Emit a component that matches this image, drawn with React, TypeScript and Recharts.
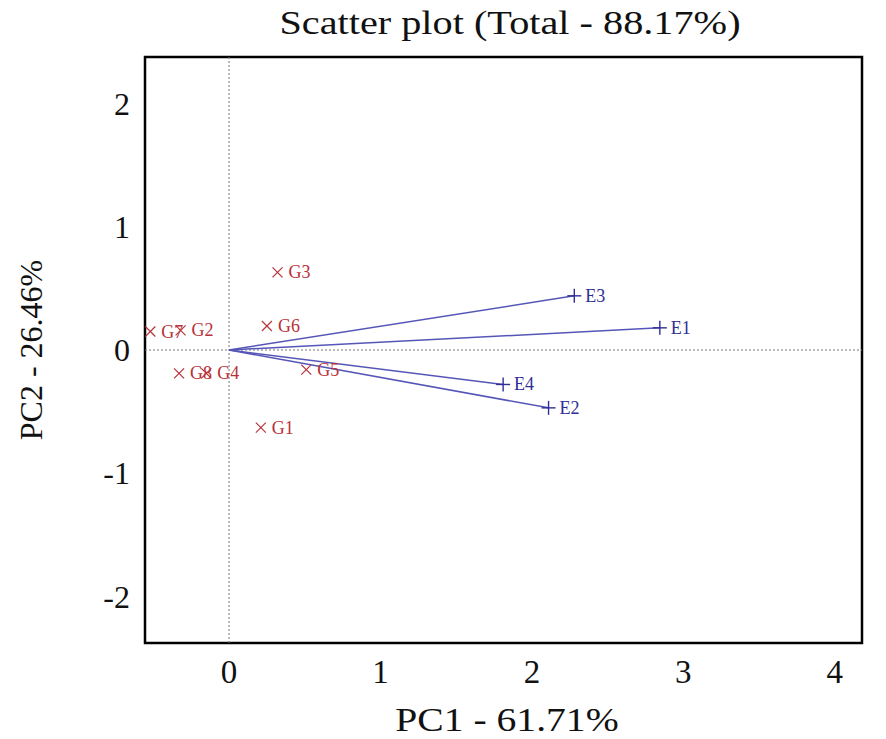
import React from 'react';
import {
  ScatterChart,
  Scatter,
  XAxis,
  YAxis,
  ReferenceLine,
  ReferenceArea,
} from 'recharts';

// Genotype scores (red crosses)
const genotypeNames = ['G1', 'G2', 'G3', 'G4', 'G5', 'G6', 'G7', 'G8'];
const genotypePC1 = [0.21, -0.32, 0.32, -0.15, 0.51, 0.25, -0.52, -0.33];
const genotypePC2 = [-0.63, 0.16, 0.63, -0.19, -0.16, 0.195, 0.15, -0.19];

// Environment vectors (blue plus signs)
const envNames = ['E1', 'E2', 'E3', 'E4'];
const envPC1 = [2.845, 2.11, 2.28, 1.81];
const envPC2 = [0.18, -0.47, 0.44, -0.28];

const xTicks = [0, 1, 2, 3, 4];
const yTicks = [-2, -1, 0, 1, 2];

const X_DOMAIN: [number, number] = [-0.555, 4.18];
const Y_DOMAIN: [number, number] = [-2.38, 2.38];

const FONT = '"Liberation Serif", "Times New Roman", serif';
const RED = '#b8323a';
const BLUE = '#2e2e96';
const LINE_BLUE = '#5656b8';

const genotypeData = genotypeNames.map((name, i) => ({
  name,
  x: genotypePC1[i],
  y: genotypePC2[i],
}));

const envData = envNames.map((name, i) => ({
  name,
  x: envPC1[i],
  y: envPC2[i],
}));

const CrossShape = (props: any) => {
  const { cx, cy, payload } = props;
  const s = 5;
  return (
    <g>
      <line x1={cx - s} y1={cy - s} x2={cx + s} y2={cy + s} stroke={RED} strokeWidth={1.2} />
      <line x1={cx - s} y1={cy + s} x2={cx + s} y2={cy - s} stroke={RED} strokeWidth={1.2} />
      <text x={cx + 11} y={cy + 6} fill={RED} fontSize={18} fontFamily={FONT}>
        {payload.name}
      </text>
    </g>
  );
};

const PlusShape = (props: any) => {
  const { cx, cy, payload } = props;
  const s = 7;
  return (
    <g>
      <line x1={cx - s} y1={cy} x2={cx + s} y2={cy} stroke={BLUE} strokeWidth={1.4} />
      <line x1={cx} y1={cy - s} x2={cx} y2={cy + s} stroke={BLUE} strokeWidth={1.4} />
      <text x={cx + 11} y={cy + 6} fill={BLUE} fontSize={18} fontFamily={FONT}>
        {payload.name}
      </text>
    </g>
  );
};

const textStyle: React.CSSProperties = {
  position: 'absolute',
  textAlign: 'center',
  fontSize: 33,
  lineHeight: '38px',
  color: '#111',
  whiteSpace: 'nowrap',
};

export default function App(): React.ReactElement {
  return (
    <div style={{ position: 'relative', width: 886, height: 739, background: '#fff', fontFamily: FONT }}>
      <style>{`body{margin:0}`}</style>
      <div style={{ ...textStyle, left: 210, width: 600, top: 4, transform: 'scaleX(1.22)' }}>
        Scatter plot (Total - 88.17%)
      </div>
      <div style={{ ...textStyle, left: 207, width: 600, top: 701, transform: 'scaleX(1.2)' }}>
        PC1 - 61.71%
      </div>
      <div
        style={{
          ...textStyle,
          fontSize: 32,
          left: 31,
          top: 350,
          width: 300,
          marginLeft: -150,
          marginTop: -19,
          transform: 'rotate(-90deg)',
        }}
      >
        PC2 - 26.46%
      </div>
      <ScatterChart
        width={886}
        height={739}
        margin={{ top: 57, right: 24, left: 65, bottom: 46 }}
      >
        <XAxis
          type="number"
          dataKey="x"
          domain={X_DOMAIN}
          ticks={xTicks}
          allowDataOverflow
          axisLine={false}
          tickLine={false}
          tickSize={0}
          tickMargin={17}
          height={50}
          tick={{ fontSize: 33, fontFamily: FONT, fill: '#111' }}
        />
        <YAxis
          type="number"
          dataKey="y"
          domain={Y_DOMAIN}
          ticks={yTicks}
          allowDataOverflow
          axisLine={false}
          tickLine={false}
          tickSize={0}
          tickMargin={15}
          width={80}
          tick={{ fontSize: 32, fontFamily: FONT, fill: '#111' }}
        />
        <ReferenceLine x={0} stroke="#777" strokeDasharray="2 2" strokeWidth={1} />
        <ReferenceLine y={0} stroke="#777" strokeDasharray="2 2" strokeWidth={1} />
        {envData.map((e) => (
          <ReferenceLine
            key={e.name}
            segment={[
              { x: 0, y: 0 },
              { x: e.x, y: e.y },
            ]}
            stroke={LINE_BLUE}
            strokeWidth={1.5}
          />
        ))}
        <ReferenceArea
          x1={X_DOMAIN[0]}
          x2={X_DOMAIN[1]}
          y1={Y_DOMAIN[0]}
          y2={Y_DOMAIN[1]}
          fill="none"
          fillOpacity={0}
          stroke="#000"
          strokeWidth={2.5}
          ifOverflow="visible"
        />
        <Scatter data={genotypeData} shape={<CrossShape />} isAnimationActive={false} />
        <Scatter data={envData} shape={<PlusShape />} isAnimationActive={false} />
      </ScatterChart>
    </div>
  );
}
